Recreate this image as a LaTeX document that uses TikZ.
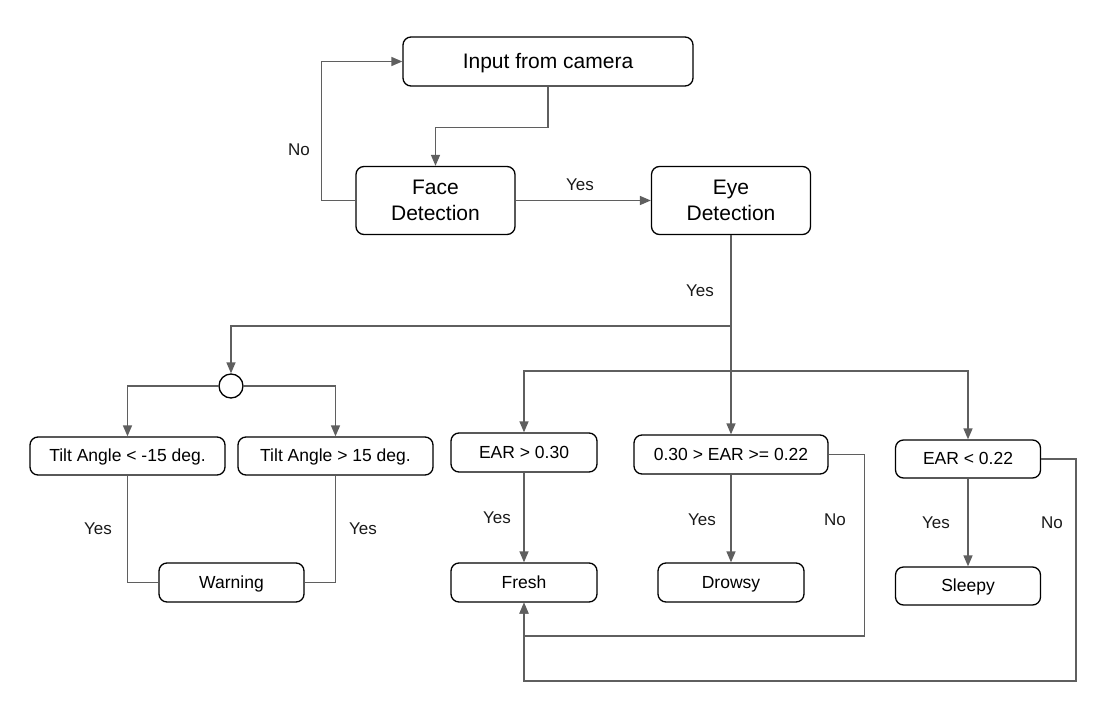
\documentclass[tikz,border=0pt]{standalone}
\usepackage{fontspec}
\setmainfont{Liberation Sans}
\usetikzlibrary{arrows.meta}
\definecolor{ln}{HTML}{5F5F5F}
\tikzset{
  box/.style={draw=black, line width=1.3pt, rounded corners=8pt, fill=white, inner sep=0pt},
  bigbox/.style={box, font=\fontsize{21}{26}\selectfont, text height=19pt, text depth=5pt},
  twobox/.style={box, align=center, font=\fontsize{21}{26}\selectfont},
  smallbox/.style={box, font=\fontsize{17.5}{21}\selectfont, text height=15.8pt, text depth=4.2pt},
  conn/.style={draw=ln, line width=1.5pt},
  arr/.style={conn, -{Triangle[length=11pt, width=9pt, fill=ln]}},
  lbl/.style={font=\fontsize{17}{20}\selectfont, text=black!90, inner sep=0pt}
}
\begin{document}
\begin{tikzpicture}[x=1pt, y=-1pt]
\useasboundingbox (0,0) rectangle (1105,717);
% nodes
\node[bigbox, minimum width=290pt, minimum height=49pt] (input) at (548,61.5) {Input from camera};
\node[twobox, minimum width=159pt, minimum height=68pt] (face) at (435.5,200.5) {Face\\Detection};
\node[twobox, minimum width=159pt, minimum height=68pt] (eye) at (731,200.5) {Eye\\Detection};
\node[draw=black, line width=1.3pt, circle, minimum size=24pt, inner sep=0pt] (circ) at (231,386) {};
\node[smallbox, minimum width=195pt, minimum height=38pt] (tilt1) at (127.5,456) {Tilt Angle < -15 deg.};
\node[smallbox, minimum width=195pt, minimum height=38pt] (tilt2) at (335.5,456) {Tilt Angle > 15 deg.};
\node[smallbox, minimum width=145pt, minimum height=39pt] (warn) at (231.5,582.5) {Warning};
\node[smallbox, minimum width=146pt, minimum height=39pt] (ear1) at (524,452.5) {EAR > 0.30};
\node[smallbox, minimum width=194pt, minimum height=39pt] (ear2) at (731,454.5) {0.30 > EAR >= 0.22};
\node[smallbox, minimum width=145pt, minimum height=38pt] (ear3) at (968,459) {EAR < 0.22};
\node[smallbox, minimum width=146pt, minimum height=39pt] (fresh) at (524,582.5) {Fresh};
\node[smallbox, minimum width=146pt, minimum height=39pt] (drowsy) at (731,582.5) {Drowsy};
\node[smallbox, minimum width=145pt, minimum height=38pt] (sleepy) at (968,586) {Sleepy};
% junctions
\coordinate (j1) at (731,326);
\coordinate (j2) at (731,371);
% connectors
\draw[arr] (input.south) -- ++(0,41) -| (face.north);
\draw[arr] (face.west) -- ++(-34,0) |- (input.west);
\draw[arr] (face.east) -- (eye.west);
\draw[arr] (eye.south) -- (j1) -| (circ.north);
\draw[arr] (j1) -- (ear2.north);
\draw[arr] (j2) -| (ear1.north);
\draw[arr] (j2) -| (ear3.north);
\draw[arr] (circ.west) -| (tilt1.north);
\draw[arr] (circ.east) -| (tilt2.north);
\draw[conn] (tilt1.south) |- (warn.west);
\draw[conn] (tilt2.south) |- (warn.east);
\draw[arr] (ear1.south) -- (fresh.north);
\draw[arr] (ear2.south) -- (drowsy.north);
\draw[arr] (ear3.south) -- (sleepy.north);
\draw[arr] (ear2.east) -- ++(36,0) -- ++(0,181.5) -| (fresh.south);
\draw[arr] (ear3.east) -- ++(35,0) -- ++(0,222) -| (fresh.south);
% labels
\node[lbl] (lno1) at (299,150) {No};
\node[lbl] (lyes1) at (580,185) {Yes};
\node[lbl] (lyes2) at (700,291) {Yes};
\node[lbl] (lyes3) at (98,529) {Yes};
\node[lbl] (lyes4) at (363,529) {Yes};
\node[lbl] (lyes5) at (497,518) {Yes};
\node[lbl] (lyes6) at (702,520) {Yes};
\node[lbl] (lno2) at (835,520) {No};
\node[lbl] (lyes7) at (936,523) {Yes};
\node[lbl] (lno3) at (1052,523) {No};
\end{tikzpicture}
\end{document}
